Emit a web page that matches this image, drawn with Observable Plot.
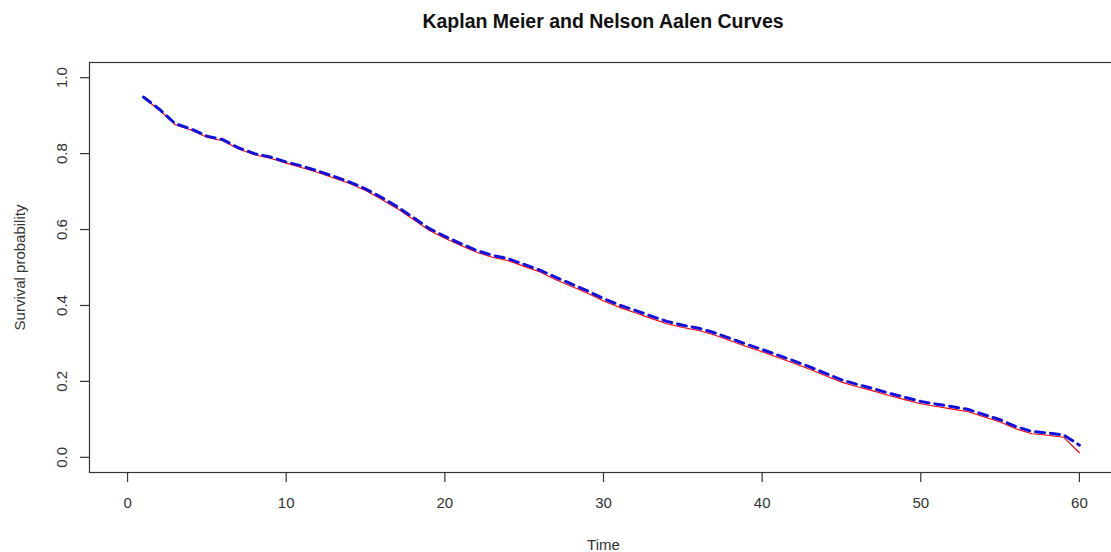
<!DOCTYPE html>
<html>
<head>
<meta charset="utf-8">
<script src="https://cdn.jsdelivr.net/npm/d3@7"></script>
<script src="https://cdn.jsdelivr.net/npm/@observablehq/plot@0.6"></script>
<style>
  html, body { margin: 0; padding: 0; background: #fff; overflow: hidden; }
  #title { width: 1206px; height: 34px; line-height: 43px; text-align: center;
           font-family: "Liberation Sans", Arial, sans-serif; font-weight: bold;
           font-size: 19.5px; color: #111; }
  #chart svg { display: block; }
</style>
</head>
<body>
<div id="title">Kaplan Meier and Nelson Aalen Curves</div>
<div id="chart"></div>
<script>
const times = [1,2,3,4,5,6,7,8,9,10,11,12,13,14,15,16,17,18,19,20,21,22,23,24,25,26,27,28,29,30,31,32,33,34,35,36,37,38,39,40,41,42,43,44,45,46,47,48,49,50,51,52,53,54,55,56,57,58,59,60];
const kaplanMeier = [0.947,0.915,0.876,0.862,0.843,0.834,0.812,0.797,0.788,0.775,0.763,0.750,0.736,0.721,0.703,0.680,0.655,0.627,0.598,0.577,0.558,0.540,0.527,0.518,0.503,0.488,0.468,0.450,0.432,0.412,0.395,0.381,0.366,0.352,0.342,0.334,0.322,0.307,0.292,0.278,0.263,0.248,0.232,0.215,0.198,0.186,0.175,0.163,0.152,0.141,0.134,0.127,0.120,0.106,0.093,0.075,0.062,0.058,0.053,0.012];
const nelsonAalen = [0.949,0.917,0.879,0.865,0.846,0.837,0.815,0.800,0.791,0.778,0.767,0.754,0.740,0.725,0.707,0.685,0.660,0.632,0.603,0.582,0.563,0.545,0.532,0.523,0.508,0.493,0.474,0.456,0.438,0.418,0.401,0.387,0.372,0.358,0.348,0.340,0.328,0.313,0.298,0.284,0.269,0.254,0.238,0.221,0.204,0.192,0.181,0.169,0.158,0.147,0.140,0.133,0.126,0.112,0.099,0.081,0.068,0.064,0.059,0.032];
const xTicks = [0,10,20,30,40,50,60];
const yTicks = [0,0.2,0.4,0.6,0.8,1.0];
const xLabel = "Time";
const yLabel = "Survival probability";

const km = times.map((t, i) => ({time: t, s: kaplanMeier[i]}));
const na = times.map((t, i) => ({time: t, s: nelsonAalen[i]}));

const ink = "#333";
const chart = Plot.plot({
  width: 1111,
  height: 518,
  marginLeft: 89,
  marginRight: -6,
  marginTop: 28,
  marginBottom: 80,
  style: {fontFamily: "'Liberation Sans', Arial, sans-serif", fontSize: "15px", color: ink, background: "white"},
  x: {domain: [-2.4, 62.4]},
  y: {domain: [-0.04, 1.04]},
  marks: [
    Plot.frame({stroke: ink, strokeWidth: 1.2}),
    Plot.axisX({ticks: xTicks, tickSize: 10, tickPadding: 15, tickFormat: d => String(d), label: null, stroke: ink, strokeWidth: 1.2}),
    Plot.axisY({ticks: yTicks, tickSize: 9, tickFormat: () => "", label: null, stroke: ink, strokeWidth: 1.2}),
    Plot.text(yTicks, {y: d => d, text: d => d.toFixed(1), frameAnchor: "left", textAnchor: "middle", dx: -27, rotate: -90, fill: ink}),
    Plot.text([yLabel], {frameAnchor: "left", textAnchor: "middle", dx: -69, rotate: -90, fill: ink, text: d => d}),
    Plot.text([xLabel], {frameAnchor: "bottom", textAnchor: "middle", dy: 77, fill: ink, text: d => d}),
    Plot.line(km, {x: "time", y: "s", stroke: "red", strokeWidth: 1.1}),
    Plot.line(na, {x: "time", y: "s", stroke: "#1010e0", strokeWidth: 3, strokeDasharray: "9,6"})
  ]
});
document.getElementById("chart").appendChild(chart);
</script>
</body>
</html>
